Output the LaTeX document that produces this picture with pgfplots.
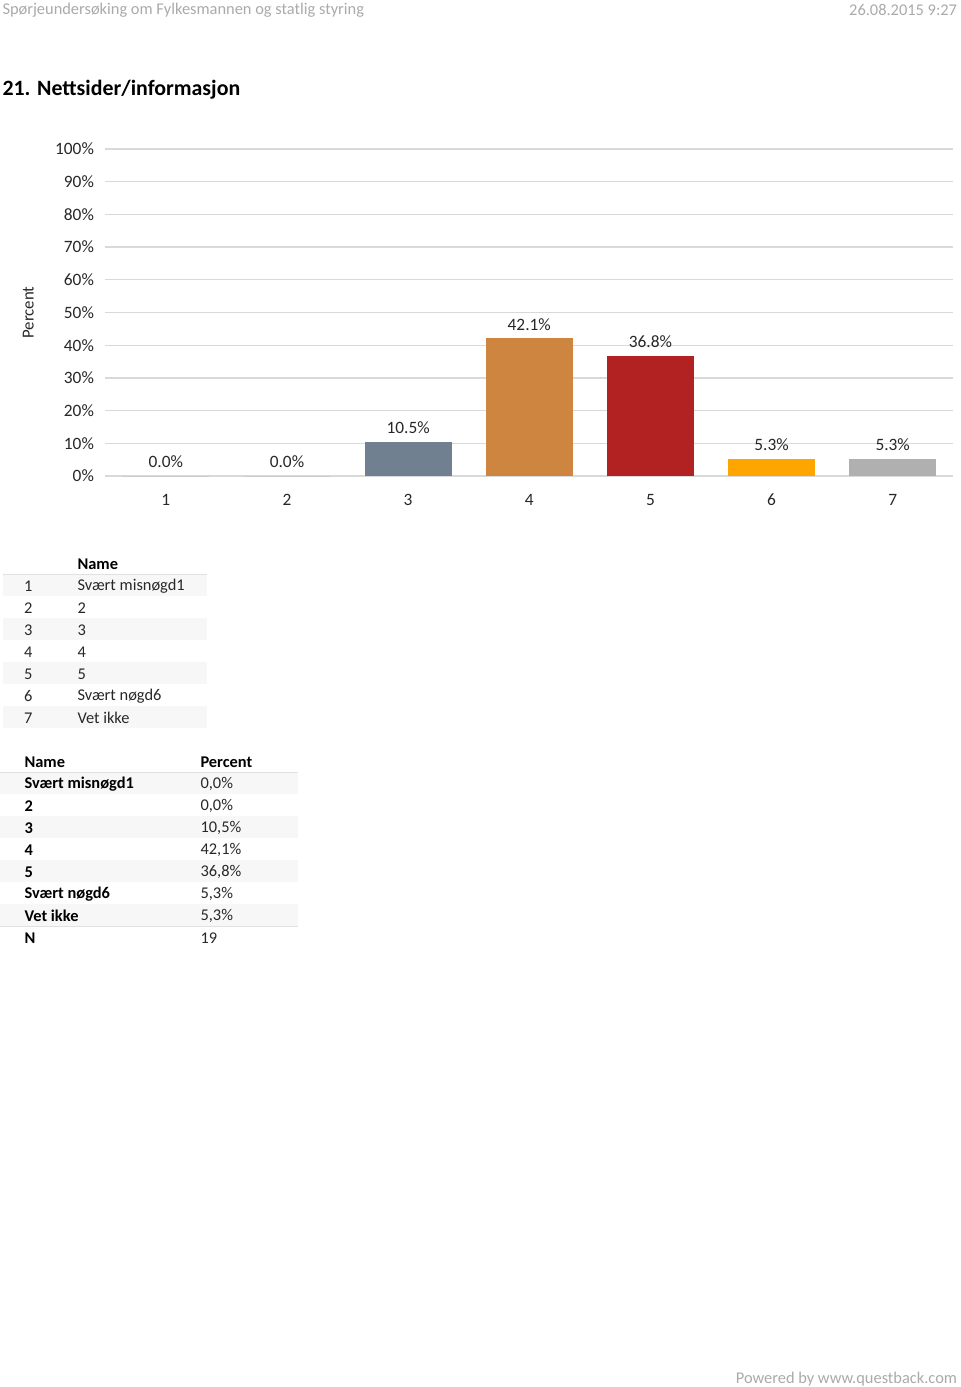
\documentclass[border=0pt]{standalone}
\usepackage{fontspec}
\setmainfont{Carlito}
\usepackage{pgfplots}
\pgfplotsset{compat=1.18}
\definecolor{gridgray}{RGB}{217,217,217}
\definecolor{hdrgray}{RGB}{170,170,170}
\definecolor{txt}{RGB}{40,40,40}
\definecolor{rowshade}{RGB}{247,247,247}
\definecolor{linegray}{RGB}{225,225,225}
\definecolor{cthree}{RGB}{112,128,144}
\definecolor{cfour}{RGB}{205,133,63}
\definecolor{cfive}{RGB}{178,34,34}
\definecolor{csix}{RGB}{255,165,0}
\definecolor{cseven}{RGB}{176,176,176}
\begin{document}
\begin{tikzpicture}
\path[fill=white] (0,0) rectangle (720pt,-1040.25pt);
\begin{scope}[x=0.75pt,y=-0.75pt]
\node[anchor=west, text=hdrgray, inner sep=0pt, font=\fontsize{12.3}{14}\selectfont] at (2,10) {Spørjeundersøking om Fylkesmannen og statlig styring};
\node[anchor=east, text=hdrgray, inner sep=0pt, font=\fontsize{12.3}{14}\selectfont] at (957,10) {26.08.2015 9:27};
\node[anchor=west, inner sep=0pt, font=\bfseries\fontsize{16.4}{19}\selectfont] at (2,90) {21. Nettsider/informasjon};
\node[anchor=east, text=hdrgray, inner sep=0pt, font=\fontsize{12.3}{14}\selectfont] at (957,1379) {Powered by www.questback.com};
% table 1
\foreach \y in {585,629,673,717} {\fill[rowshade] (3,\y-11) rectangle (207,\y+11);}
\draw[linegray] (3,574) -- (207,574);
\node[anchor=west, inner sep=0pt, font=\bfseries\fontsize{12.3}{14}\selectfont] at (77,564) {Name};
\foreach \n/\lab [count=\i from 0] in {1/Svært misnøgd1,2/2,3/3,4/4,5/5,6/Svært nøgd6,7/Vet ikke} {
  \node[inner sep=0pt, font=\fontsize{12.3}{14}\selectfont, text=txt] at (28,586+22*\i) {\n};
  \node[anchor=west, inner sep=0pt, font=\fontsize{12.3}{14}\selectfont, text=txt] at (77,586+22*\i) {\lab};
}
% table 2
\foreach \y in {783,827,871,915} {\fill[rowshade] (0,\y-11) rectangle (298,\y+11);}
\draw[linegray] (0,772) -- (298,772);
\draw[linegray] (0,926) -- (298,926);
\node[anchor=west, inner sep=0pt, font=\bfseries\fontsize{12.3}{14}\selectfont] at (24,762) {Name};
\node[anchor=west, inner sep=0pt, font=\bfseries\fontsize{12.3}{14}\selectfont] at (200,762) {Percent};
\foreach \lab/\val [count=\i from 0] in {Svært misnøgd1/{0,0\%},2/{0,0\%},3/{10,5\%},4/{42,1\%},5/{36,8\%},Svært nøgd6/{5,3\%},Vet ikke/{5,3\%},N/19} {
  \node[anchor=west, inner sep=0pt, font=\bfseries\fontsize{12.3}{14}\selectfont] at (24,784+22*\i) {\lab};
  \node[anchor=west, inner sep=0pt, font=\fontsize{12.3}{14}\selectfont, text=txt] at (200,784+22*\i) {\val};
}
\end{scope}
\begin{axis}[
  at={(78.75pt,-357pt)}, anchor=south west,
  scale only axis, width=636pt, height=245.25pt,
  xmin=0.5, xmax=7.5, ymin=0, ymax=100,
  xtick={1,...,7}, ytick={0,10,...,100},
  yticklabel={\pgfmathprintnumber{\tick}\%},
  /pgf/number format/assume math mode=true,
  ymajorgrids, grid style={gridgray, line width=0.9pt},
  axis line style={draw=none}, major tick length=0pt,
  tick label style={font=\fontsize{13}{15}\selectfont, text=txt},
  yticklabel style={xshift=-5pt},
  xticklabel style={yshift=-10pt},
  ylabel={Percent},
  ylabel style={at={(axis description cs:-0.0908,0.5)}, anchor=center, font=\fontsize{12.6}{14}\selectfont, text=txt},
  ybar, bar width=0.72, bar shift=0pt,
  nodes near coords={\pgfmathprintnumber[fixed,fixed zerofill,precision=1]{\pgfplotspointmeta}\%},
  every node near coord/.append style={font=\fontsize{13}{15}\selectfont, text=txt, anchor=center, yshift=10.5pt},
]
\addplot[fill=cthree, draw=none] coordinates {(1,0)};
\addplot[fill=cthree, draw=none] coordinates {(2,0)};
\addplot[fill=cthree, draw=none] coordinates {(3,10.5)};
\addplot[fill=cfour, draw=none] coordinates {(4,42.1)};
\addplot[fill=cfive, draw=none] coordinates {(5,36.8)};
\addplot[fill=csix, draw=none] coordinates {(6,5.3)};
\addplot[fill=cseven, draw=none] coordinates {(7,5.3)};
\end{axis}
\end{tikzpicture}
\end{document}
